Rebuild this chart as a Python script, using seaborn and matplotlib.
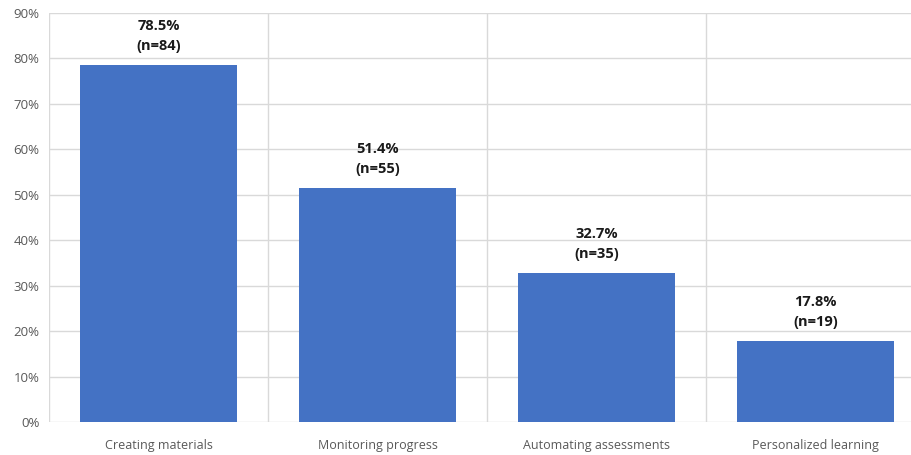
import matplotlib
matplotlib.use("Agg")
import matplotlib.pyplot as plt
import seaborn as sns
import pandas as pd
import numpy as np

categories = ["Creating materials", "Monitoring progress", "Automating assessments", "Personalized learning"]
percentages = [78.5, 51.4, 32.7, 17.8]
counts = [84, 55, 35, 19]
yticks = [0, 10, 20, 30, 40, 50, 60, 70, 80, 90]

sns.set_theme(style="white")
plt.rcParams["font.family"] = ["Open Sans", "DejaVu Sans"]

df = pd.DataFrame({"category": categories, "pct": percentages})

fig = plt.figure(figsize=(9.12, 4.55), dpi=100)
ax = fig.add_axes([49 / 912, 33 / 455, 876 / 912, 409 / 455])

grid_c = "#d9d9d9"
sns.barplot(data=df, x="category", y="pct", color="#4472C4", saturation=1,
            width=0.72, linewidth=0, ax=ax, zorder=3)

ax.set_xlim(-0.5, len(categories) - 0.5)
ax.set_ylim(0, 90)
ax.set_yticks(yticks)
ax.set_yticklabels([f"{t}%" for t in yticks])
ax.set_xlabel("")
ax.set_ylabel("")

for s in ax.spines.values():
    s.set_visible(False)

# horizontal gridlines
ax.yaxis.grid(True, color=grid_c, linewidth=1, zorder=0)
# category separators, extended below the baseline as tick marks
bounds = np.arange(-0.5, len(categories), 1.0)
ax.set_xticks(bounds, minor=True)
ax.xaxis.grid(True, which="minor", color=grid_c, linewidth=1, zorder=0)
ax.tick_params(axis="x", which="minor", length=7.5, color=grid_c, width=1)
ax.tick_params(axis="x", which="major", length=0, pad=12, labelsize=9, labelcolor="#595959")
ax.tick_params(axis="y", length=0, pad=7, labelsize=9.5, labelcolor="#595959")
ax.set_axisbelow(True)

for i, (p, n) in enumerate(zip(percentages, counts)):
    ax.annotate(f"{p}%\n(n={n})", xy=(i, p), xytext=(0, 9), textcoords="offset points",
                ha="center", va="bottom", fontsize=10.5, fontweight="bold",
                color="#1a1a1a", linespacing=1.55)

fig.savefig("out.png", dpi=100)
